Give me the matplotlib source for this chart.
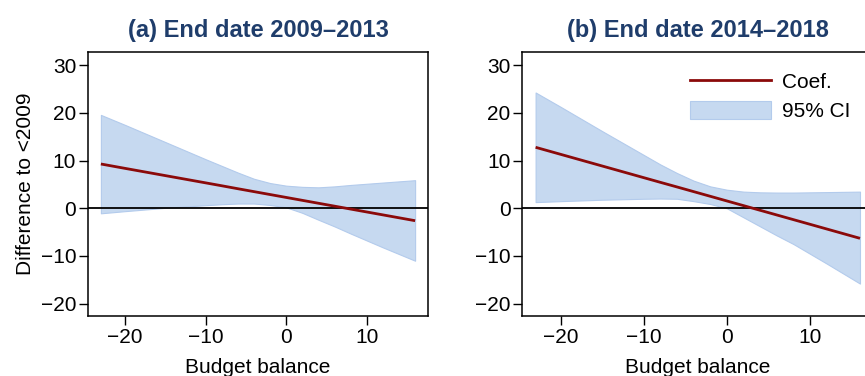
import numpy as np
import matplotlib
matplotlib.use("Agg")
import matplotlib.pyplot as plt
from matplotlib.patches import Patch
from matplotlib.lines import Line2D

plt.rcParams['font.family'] = ['Liberation Sans', 'DejaVu Sans']

# budget balance grid (same for both panels)
budget = [-23, -20, -15, -10, -8, -6, -4, -2, 0, 2, 4, 6, 8, 12, 16]

# panel (a): end date 2009-2013
coef_a = [9.3, 8.38, 6.86, 5.34, 4.73, 4.11, 3.50, 2.89, 2.28, 1.67, 1.06,
          0.45, -0.16, -1.38, -2.6]
upper_a = [19.6, 17.5, 13.9, 10.3, 8.9, 7.5, 6.2, 5.3, 4.75, 4.5, 4.4,
           4.6, 4.9, 5.4, 5.9]
lower_a = [-1.05, -0.6, 0.1, 0.65, 0.85, 1.0, 1.0, 0.7, 0.2, -0.95, -2.4,
           -3.8, -5.3, -8.2, -11.0]

# panel (b): end date 2014-2018
coef_b = [12.8, 11.33, 8.88, 6.43, 5.45, 4.48, 3.5, 2.52, 1.54, 0.56, -0.42,
          -1.40, -2.38, -4.34, -6.3]
upper_b = [24.3, 21.3, 16.2, 11.2, 9.2, 7.4, 5.8, 4.6, 3.9, 3.5, 3.35,
           3.3, 3.3, 3.4, 3.5]
lower_b = [1.3, 1.5, 1.8, 2.0, 2.05, 2.0, 1.5, 0.9, 0.0, -1.9, -3.8,
           -5.7, -7.5, -11.6, -15.8]

titles = ["End date 2009\u20132013", "End date 2014\u20132018"]
letters = ["a", "b"]

yticks = [-20, -10, 0, 10, 20, 30]
xticks = [-20, -10, 0, 10]

title_col = '#1f3d6b'
band_col = '#c6d9f0'
band_edge = '#b3cbec'
line_col = '#8b0a0a'

fig = plt.figure(figsize=(8.65, 3.76), dpi=100)
ax_a = fig.add_axes([88/865, 1-316/376, 340/865, 264/376])
ax_b = fig.add_axes([522.3/865, 1-316/376, 351/865, 264/376])

panels = [(ax_a, coef_a, upper_a, lower_a), (ax_b, coef_b, upper_b, lower_b)]
for i, (ax, coef, up, lo) in enumerate(panels):
    ax.fill_between(budget, lo, up, facecolor=band_col, edgecolor=band_edge,
                    linewidth=0.8, zorder=1)
    ax.axhline(0, color='black', linewidth=1.3, zorder=2)
    ax.plot(budget, coef, color=line_col, linewidth=2.0, zorder=3,
            solid_capstyle='butt')
    ax.set_xlim(-24.6, 17.6)
    ax.set_ylim(-22.6, 32.8)
    ax.set_xticks(xticks)
    ax.set_yticks(yticks)
    ax.set_xticklabels([str(t).replace('-', '\u2212') for t in xticks])
    ax.set_yticklabels([str(t).replace('-', '\u2212') for t in yticks])
    ax.tick_params(direction='out', length=6.5, width=1.0, labelsize=15,
                   pad=2, color='black')
    for s in ax.spines.values():
        s.set_linewidth(1.1)
    ax.set_xlabel("Budget balance", fontsize=15, labelpad=8)
    ax.set_title(f"({letters[i]}) {titles[i]}", fontsize=17, fontweight='bold',
                 color=title_col, pad=11)

ax_a.set_ylabel("Difference to <2009", fontsize=15, labelpad=4)

handles = [Line2D([], [], color=line_col, linewidth=2.0),
           Patch(facecolor=band_col, edgecolor=band_edge, linewidth=0.8)]
ax_b.legend(handles, ["Coef.", "95% CI"], loc='upper left', frameon=False,
            fontsize=15, handlelength=3.9, handleheight=1.0,
            handletextpad=0.5, labelspacing=0.4, borderpad=0,
            borderaxespad=0, bbox_to_anchor=(690/865, 1-72/376),
            bbox_transform=fig.transFigure)

fig.savefig("out.png", dpi=100)
